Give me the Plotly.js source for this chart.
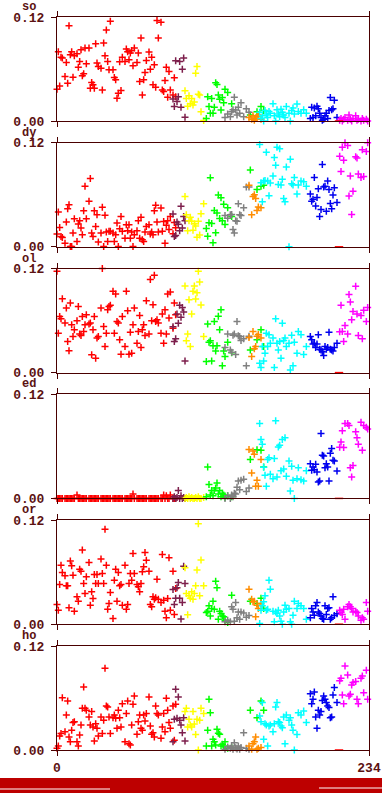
<!DOCTYPE html>
<html>
<head>
<meta charset="utf-8">
<script src="https://cdn.plot.ly/plotly-3.0.1.min.js"></script>
<style>html,body{margin:0;padding:0;background:#fff;}#chart{width:382px;height:793px;}</style>
</head>
<body>
<div id="chart"></div>
<script>
// ---------- shared x positions per colour group ----------
const redX = [0,1,2,3,4,6,7,8,9,10,11,12,13,15,16,17,18,19,20,21,22,24,25,26,27,28,29,30,31,33,34,35,36,37,38,39,40,42,43,44,45,46,47,48,49,51,52,53,54,55,56,57,58,60,61,62,63,64,65,66,67,69,70,71,72,73,74,75,76,78,79,80,81,82,83,84,85,87,88,89];
const darkX = [87,88,89,90,91,92,93,94,95,96];
const yellowX = [96,97,98,99,100,101,102,103,104,105,106,107,108,110];
const greenX = [112,113,114,115,116,117,118,119,120,121,122,123,124,125,126,128,131,145,150,153,155];
const grayX = [126,128,130,131,132,133,134,135,136,137,138,140,142,144];
const orangeX = [144,146,147,148,149,150,151,153];
const cyanX = [152,153,154,155,156,157,158,159,160,162,163,164,165,166,167,168,169,170,171,172,174,175,176,177,178,180,181,183,185,187];
const blueX = [190,191,192,193,194,195,196,197,198,199,200,201,202,203,204,205,206,207,208,210];
const magentaX = [212,213,214,215,216,218,219,220,221,222,224,225,226,228,229,230,232,233];
const markX = [211.5];
const markY = [0];

const panelNames = ['so','dy','ol','ed','or','ho'];
const xTickVals = [0,234];
const xTickText = ['0','234'];
const yTickVals = [0,0.12];
const yTickText = ['0.00','0.12'];

// ---------- so ----------
const so_red = [0.0367,0.080,0.0405,0.0737,0.0726,0.0513,0.0676,0.0436,0.110,0.0764,
0.080,0.0506,0.0753,0.0776,0.0621,0.0687,0.0822,0.0521,0.0544,0.0841,
0.066,0.0841,0.0378,0.0444,0.0417,0.0378,0.0892,0.0668,0.0629,0.061,
0.0359,0.09,0.0753,0.105,0.0687,0.059,0.115,0.059,0.0502,0.0475,
0.0262,0.032,0.0683,0.0351,0.0737,0.0687,0.083,0.080,0.0706,0.0784,
0.0814,0.0637,0.0841,0.0676,0.0784,0.0455,0.0957,0.0301,0.0475,0.056,
0.0699,0.0795,0.0598,0.0737,0.0417,0.0648,0.039,0.116,0.0957,0.114,
0.0359,0.034,0.0467,0.0621,0.0274,0.0571,0.0359,0.030,0.05,0.028];
const so_dark = [0.0255,0.0166,0.0695,0.0224,0.028,0.0687,0.0158,0.0598,0.0726,0.0042];
const so_yellow = [0.035,0.026,0.017,0.029,0.02,0.026,0.0185,0.022,0.055,0.063,0.031,0.03,0.0108,0.0005];
const so_green = [0.003,0.028,0.0166,0.009,0.026,0.009,0.016,0.044,0.042,0.030,0.025,0.0127,0.027,0.021,0.0367,0.033,0.02,0.007,0.0108,0.0166,0.012];
const so_gray = [0.004,0.008,0.005,0.0108,0.013,0.0274,0.0127,0.007,0.016,0.009,0.021,0.005,0.014,0.010];
const so_orange = [0.004,0.002,0.006,0.001,0.003,0.005,0.007,0.002];
const so_cyan = [0.01,0.003,0.006,0.0,0.012,0.007,0.004,0.011,0.009,0.02,0.006,0.0,0.013,0.008,0.005,0.0135,0.01,0.007,0.004,0.0166,0.009,0.0,0.012,0.015,0.008,0.0197,0.011,0.009,0.013,0.009];
const so_blue = [0.003,0.016,0.004,0.015,0.006,0.017,0.014,0.009,0.004,0.001,0.002,0.006,0.009,0.003,0.012,0.027,0.013,0.014,0.024,0.004];
const so_magenta = [0.001,0.003,0.0,0.002,0.004,0.001,0.007,0.002,0.0,0.003,0.006,0.001,0.002,0.0,0.003,0.001,0.002,0.0];

// ---------- dy ----------
const dy_red = [0.0147,0.0401,0.0224,0.012,0.0108,0.0042,0.0286,0.044,0.0486,0.0004,
0.0004,0.0158,0.0324,0.0062,0.0262,0.0301,0.0216,0.0139,0.0417,0.0699,
0.0324,0.0525,0.0787,0.0158,0.012,0.0417,0.0235,0.0371,0.0054,0.0158,
0.0455,0.0004,0.0363,0.017,0.0062,0.0178,0.0178,0.0158,0.0062,0.0139,
0.0274,0.0004,0.0208,0.0351,0.0178,0.01,0.0255,0.0185,0.0255,0.01,
0.017,0.0004,0.0139,0.0185,0.0301,0.01,0.034,0.0081,0.0062,0.017,
0.0235,0.0255,0.0147,0.017,0.0139,0.0417,0.0479,0.0286,0.017,0.0448,
0.0178,0.0293,0.0042,0.025,0.03,0.02,0.035,0.015,0.028,0.022];
const dy_dark = [0.0378,0.012,0.013,0.0286,0.026,0.0185,0.0467,0.0216,0.035,0.03];
const dy_yellow = [0.058,0.037,0.0185,0.03,0.034,0.0296,0.019,0.0265,0.024,0.011,0.0296,0.0135,0.038,0.0497];
const dy_green = [0.021,0.0123,0.0277,0.0797,0.027,0.0046,0.042,0.0162,0.039,0.0597,0.0327,0.0566,0.03,0.049,0.0258,0.045,0.035,0.0886,0.066,0.070,0.071];
const dy_gray = [0.036,0.033,0.037,0.0373,0.02,0.016,0.03,0.0296,0.0497,0.037,0.036,0.045,0.069,0.069];
const dy_orange = [0.071,0.037,0.058,0.060,0.0558,0.042,0.046,0.045];
const dy_cyan = [0.118,0.074,0.052,0.0758,0.0766,0.109,0.0758,0.059,0.0735,0.0816,0.103,0.094,0.115,0.072,0.113,0.0712,0.078,0.0556,0.052,0.092,0.0,0.101,0.0727,0.0712,0.08,0.061,0.0712,0.076,0.075,0.07];
const dy_blue = [0.061,0.0527,0.055,0.080,0.047,0.057,0.067,0.035,0.0431,0.095,0.069,0.070,0.041,0.0758,0.066,0.050,0.044,0.0597,0.068,0.051];
const dy_magenta = [0.1045,0.087,0.115,0.10,0.12,0.117,0.0585,0.0816,0.0373,0.064,0.104,0.1025,0.084,0.080,0.112,0.081,0.110,0.12];

// ---------- ol ----------
const ol_red = [0.117,0.0455,0.0648,0.0621,0.0853,0.0571,0.0745,0.0359,0.0251,0.0803,
0.0552,0.0417,0.0494,0.0598,0.0764,0.0444,0.0428,0.0648,0.0475,0.0552,
0.0668,0.056,0.0571,0.0205,0.0494,0.0648,0.0166,0.0398,0.0417,0.0745,
0.12,0.0533,0.0301,0.0455,0.0726,0.0764,0.0776,0.0938,0.0455,0.0907,
0.0591,0.0571,0.0378,0.0212,0.0648,0.0301,0.0938,0.0714,0.0212,0.0467,
0.0224,0.0552,0.0745,0.034,0.0475,0.066,0.029,0.0494,0.0552,0.0428,
0.083,0.0444,0.1073,0.0598,0.0784,0.1123,0.0591,0.061,0.0571,0.0455,
0.0676,0.034,0.0726,0.0444,0.0907,0.0629,0.093,0.0513,0.0803,0.0668];
const ol_dark = [0.053,0.036,0.039,0.0676,0.057,0.0776,0.064,0.075,0.07,0.0135];
const ol_yellow = [0.1,0.0367,0.0444,0.084,0.030,0.0676,0.094,0.1,0.085,0.092,0.117,0.1046,0.078,0.0417];
const ol_green = [0.0127,0.056,0.035,0.0367,0.0135,0.031,0.059,0.025,0.031,0.065,0.0494,0.0726,0.008,0.025,0.0185,0.035,0.023,0.026,0.038,0.0494,0.030];
const ol_gray = [0.029,0.0444,0.026,0.0235,0.043,0.0444,0.021,0.059,0.0425,0.0417,0.037,0.039,0.008,0.042];
const ol_orange = [0.0405,0.0185,0.0475,0.0274,0.03,0.042,0.044,0.04];
const ol_cyan = [0.0108,0.006,0.030,0.0135,0.0224,0.0455,0.030,0.0436,0.034,0.0398,0.0058,0.062,0.034,0.026,0.036,0.0166,0.057,0.037,0.0398,0.030,0.034,0.003,0.043,0.008,0.035,0.0224,0.0475,0.0436,0.021,0.03];
const ol_blue = [0.0417,0.0378,0.033,0.034,0.029,0.033,0.0436,0.027,0.026,0.024,0.0197,0.030,0.027,0.029,0.0467,0.027,0.026,0.025,0.029,0.034];
const ol_magenta = [0.047,0.0776,0.0475,0.036,0.0544,0.0444,0.09,0.0815,0.061,0.0706,0.0996,0.0676,0.0428,0.066,0.039,0.072,0.059,0.075];

// ---------- ed ----------
const ed_red = [0,0,0,0,0,0,0,0,0,0,
0,0,0,0.004,0,0,0,0,0,0,
0,0,0,0,0,0,0,0,0,0,
0,0,0,0,0,0,0,0,0,0,
0,0,0,0,0,0,0,0,0,0,
0,0.005,0,0,0,0,0,0,0,0,
0,0,0,0,0,0,0,0,0,0,
0,0.004,0,0.003,0,0,0.004,0,0,0];
const ed_dark = [0,0.002,0,0.001,0.009,0,0.003,0,0.001,0];
const ed_yellow = [0,0.001,0,0.002,0,0.001,0,0,0.001,0,0.002,0,0,0.001];
const ed_green = [0.002,0.0363,0.016,0.004,0.009,0.003,0.009,0.012,0.0178,0.005,0.009,0.002,0.006,0.004,0.001,0.003,0.002,0.0448,0.056,0.0556,0.0363];
const ed_gray = [0.0,0.003,0.0,0.004,0.002,0.006,0.005,0.013,0.020,0.010,0.021,0.022,0.008,0.012];
const ed_orange = [0.0563,0.0293,0.0548,0.051,0.0139,0.0208,0.014,0.045];
const ed_cyan = [0.0865,0.068,0.0625,0.036,0.0266,0.0139,0.045,0.047,0.0278,0.0228,0.046,0.0896,0.0247,0.0594,0.0614,0.032,0.068,0.034,0.070,0.0255,0.0432,0.0085,0.037,0.0208,0.0,0.0228,0.0355,0.0216,0.020,0.032];
const ed_blue = [0.040,0.0324,0.0363,0.0332,0.0394,0.0305,0.019,0.020,0.0749,0.0498,0.049,0.0355,0.040,0.0363,0.020,0.052,0.0575,0.044,0.0432,0.0317];
const ed_magenta = [0.059,0.065,0.078,0.0587,0.0865,0.0865,0.084,0.0355,0.0247,0.038,0.077,0.070,0.0625,0.088,0.0556,0.084,0.082,0.08];

// ---------- or ----------
const or_red = [0.0227,0.0162,0.0458,0.0681,0.0597,0.0558,0.0443,0.0443,0.0189,0.0728,
0.0674,0.0566,0.015,0.0316,0.0266,0.0635,0.0612,0.0855,0.047,0.0354,
0.0547,0.0712,0.0219,0.0373,0.0296,0.0574,0.047,0.0574,0.047,0.0751,
0.0585,0.047,0.1097,0.0681,0.0173,0.0239,0.0366,0.0065,0.0508,0.0635,
0.0266,0.0597,0.0443,0.0458,0.0219,0.0681,0.0173,0.0227,0.047,0.0585,
0.0508,0.0816,0.0585,0.0458,0.0431,0.0373,0.047,0.0604,0.0662,0.0828,
0.0739,0.0612,0.0227,0.02,0.0316,0.0289,0.0304,0.052,0.0289,0.025,
0.0805,0.0277,0.015,0.0073,0.0296,0.0766,0.0162,0.0612,0.0112,0.0412];
const or_dark = [0.040,0.0227,0.030,0.042,0.048,0.03,0.006,0.025,0.067,0.047];
const or_yellow = [0.065,0.0354,0.011,0.0327,0.030,0.0373,0.0289,0.0354,0.0443,0.0624,0.116,0.0327,0.074,0.0443];
const or_green = [0.0135,0.015,0.0212,0.0096,0.0181,0.0266,0.0173,0.0497,0.042,0.0058,0.015,0.0123,0.0096,0.0085,0.0046,0.0019,0.0335,0.0266,0.0239,0.030,0.018];
const or_gray = [0.0027,0.0046,0.0027,0.020,0.0173,0.0035,0.025,0.0073,0.0142,0.0058,0.0142,0.013,0.008,0.01];
const or_orange = [0.0404,0.0289,0.026,0.0266,0.0085,0.022,0.018,0.024];
const or_cyan = [0.0008,0.0162,0.0212,0.0258,0.0327,0.0162,0.0173,0.0508,0.0404,0.015,0.0027,0.0142,0.0123,0.0162,0.0096,0.0035,0.0,0.0142,0.0219,0.0173,0.0181,0.0027,0.0,0.0104,0.0266,0.0181,0.0239,0.0212,0.0181,0.0058];
const or_blue = [0.0073,0.018,0.0142,0.0104,0.0212,0.025,0.0142,0.0123,0.0096,0.0065,0.0058,0.0212,0.0112,0.0181,0.0189,0.0058,0.0073,0.0316,0.01,0.012];
const or_magenta = [0.0162,0.0135,0.0112,0.0173,0.0058,0.020,0.0227,0.020,0.0181,0.0142,0.015,0.0135,0.0096,0.0046,0.0073,0.0058,0.025,0.015];

// ---------- ho ----------
const ho_red = [0.0019,0.0046,0.0162,0.0189,0.0604,0.0212,0.0404,0.0566,0.015,0.0096,
0.0227,0.0316,0.0327,0.0096,0.0046,0.0173,0.0289,0.0481,0.0728,0.0481,
0.0458,0.0381,0.0289,0.0443,0.0266,0.0104,0.0304,0.025,0.0162,0.0381,
0.0189,0.0343,0.0943,0.0508,0.0497,0.0381,0.0189,0.0373,0.0404,0.0366,
0.025,0.0458,0.0373,0.0266,0.0535,0.0096,0.042,0.0566,0.0073,0.0058,
0.0289,0.0527,0.0624,0.0181,0.0327,0.0404,0.025,0.0227,0.0404,0.0335,
0.042,0.0612,0.0277,0.0181,0.02,0.015,0.0508,0.042,0.0404,0.0135,
0.0266,0.042,0.0212,0.0597,0.0458,0.0316,0.025,0.0508,0.0112,0.0527];
const ho_dark = [0.0096,0.0354,0.070,0.0366,0.0612,0.0343,0.0289,0.02,0.0373,0.0104];
const ho_yellow = [0.0443,0.0481,0.0266,0.0354,0.0289,0.0266,0.0443,0.030,0.018,0.0354,0.0,0.0343,0.0481,0.042];
const ho_green = [0.0046,0.0227,0.0585,0.0431,0.0046,0.0123,0.0096,0.0058,0.0239,0.0193,0.0181,0.0046,0.0065,0.0046,0.0096,0.0019,0.003,0.0458,0.0373,0.0566,0.0458];
const ho_gray = [0.001,0.0035,0.0019,0.0046,0.0008,0.0085,0.0027,0.0012,0.0046,0.0008,0.003,0.02,0.002,0.001];
const ho_orange = [0.0046,0.0008,0.0073,0.0096,0.015,0.0008,0.002,0.003];
const ho_cyan = [0.0393,0.0327,0.0547,0.0123,0.0304,0.0289,0.0046,0.0277,0.0289,0.0212,0.0304,0.0497,0.0547,0.0327,0.0316,0.0277,0.0258,0.0381,0.0073,0.0404,0.0343,0.0373,0.0289,0.0227,0.0,0.018,0.0431,0.0404,0.045,0.0316];
const ho_blue = [0.065,0.0535,0.0585,0.067,0.0381,0.025,0.0458,0.0404,0.0443,0.057,0.0624,0.0585,0.0547,0.0508,0.0489,0.0373,0.0381,0.0635,0.072,0.0547];
const ho_magenta = [0.080,0.0828,0.0635,0.0535,0.097,0.0866,0.0624,0.0643,0.0751,0.0778,0.079,0.0585,0.0535,0.0828,0.0855,0.066,0.092,0.0585];

// ---------- build ----------
const groups = [
  {x: redX, color: '#ff0000', key: 'red'},
  {x: darkX, color: '#7d1f4c', key: 'dark'},
  {x: yellowX, color: '#ffff00', key: 'yellow'},
  {x: greenX, color: '#00ff00', key: 'green'},
  {x: grayX, color: '#808080', key: 'gray'},
  {x: orangeX, color: '#ff8c00', key: 'orange'},
  {x: cyanX, color: '#00ffff', key: 'cyan'},
  {x: blueX, color: '#0000ee', key: 'blue'},
  {x: magentaX, color: '#ff00ff', key: 'magenta'}
];
const panelData = {
  so: {red: so_red, dark: so_dark, yellow: so_yellow, green: so_green, gray: so_gray, orange: so_orange, cyan: so_cyan, blue: so_blue, magenta: so_magenta},
  dy: {red: dy_red, dark: dy_dark, yellow: dy_yellow, green: dy_green, gray: dy_gray, orange: dy_orange, cyan: dy_cyan, blue: dy_blue, magenta: dy_magenta},
  ol: {red: ol_red, dark: ol_dark, yellow: ol_yellow, green: ol_green, gray: ol_gray, orange: ol_orange, cyan: ol_cyan, blue: ol_blue, magenta: ol_magenta},
  ed: {red: ed_red, dark: ed_dark, yellow: ed_yellow, green: ed_green, gray: ed_gray, orange: ed_orange, cyan: ed_cyan, blue: ed_blue, magenta: ed_magenta},
  or: {red: or_red, dark: or_dark, yellow: or_yellow, green: or_green, gray: or_gray, orange: or_orange, cyan: or_cyan, blue: or_blue, magenta: or_magenta},
  ho: {red: ho_red, dark: ho_dark, yellow: ho_yellow, green: ho_green, gray: ho_gray, orange: ho_orange, cyan: ho_cyan, blue: ho_blue, magenta: ho_magenta}
};

const AXC = '#4a0000';
const TXC = '#5c1212';
const FONT = {family: 'Liberation Mono, DejaVu Sans Mono, monospace', size: 13, color: TXC, weight: 'bold'};
const TFONT = {family: 'Liberation Mono, DejaVu Sans Mono, monospace', size: 12, color: TXC, weight: 'bold'};

const W = 382, H = 793;
const ML = 57, MR = 13, MT = 17, MB = 43;
const plotH = H - MT - MB;
const plotW = W - ML - MR;
const panelStep = 125.8, panelH = 104;

const traces = [];
const layout = {
  width: W, height: H,
  margin: {l: ML, r: MR, t: MT, b: MB, pad: 0},
  paper_bgcolor: '#ffffff', plot_bgcolor: '#ffffff',
  showlegend: false,
  font: FONT,
  annotations: [],
  shapes: []
};

panelNames.forEach((name, i) => {
  const k = i + 1;
  const xa = k === 1 ? 'x' : 'x' + k;
  const ya = k === 1 ? 'y' : 'y' + k;
  const topPx = MT + panelStep * i;
  const botPx = topPx + panelH;
  const d0 = (H - MB - botPx) / plotH;
  const d1 = (H - MB - topPx) / plotH;
  groups.forEach(g => {
    const col = g.color;
    traces.push({
      type: 'scatter', mode: 'markers',
      x: g.x, y: panelData[name][g.key],
      xaxis: xa, yaxis: ya, cliponaxis: false, hoverinfo: 'skip',
      marker: {symbol: 'cross-thin', size: 5, color: col, line: {color: col, width: 1.5}}
    });
  });
  traces.push({
    type: 'scatter', mode: 'markers', x: markX, y: markY,
    xaxis: xa, yaxis: ya, cliponaxis: false, hoverinfo: 'skip',
    marker: {symbol: 'line-ew', size: 6, color: '#ff0000', line: {color: '#ff0000', width: 1.5}}
  });
  layout['xaxis' + (k === 1 ? '' : k)] = {
    domain: [0, 1], anchor: ya, range: [0, 234], fixedrange: true,
    tickmode: 'array', tickvals: xTickVals, ticktext: xTickText,
    showticklabels: k === 6, ticks: 'outside', ticklen: 5, tickwidth: 1, tickcolor: AXC,
    showline: true, linecolor: AXC, linewidth: 1, mirror: 'ticks',
    showgrid: false, zeroline: false, tickfont: FONT
  };
  layout['yaxis' + (k === 1 ? '' : k)] = {
    domain: [d0, d1], anchor: xa, range: [0, 0.12], fixedrange: true,
    tickmode: 'array', tickvals: yTickVals, ticktext: yTickText,
    ticks: 'outside', ticklen: 5, tickwidth: 1, tickcolor: AXC, ticklabelstandoff: 4,
    showline: true, linecolor: AXC, linewidth: 1, mirror: true,
    showgrid: false, zeroline: false, tickfont: FONT
  };
  layout.annotations.push({
    text: name, xref: 'paper', yref: 'paper',
    x: (29 - ML) / plotW, y: (H - MB - (topPx - 10)) / plotH,
    xanchor: 'center', yanchor: 'middle', showarrow: false, font: TFONT
  });
});

// bottom band
const px2x = p => (p - ML) / plotW;
const py2y = p => (H - MB - p) / plotH;
layout.shapes.push({type: 'rect', xref: 'paper', yref: 'paper', x0: px2x(-2), x1: px2x(W + 2), y0: py2y(778), y1: py2y(H + 2), fillcolor: '#bd0000', line: {width: 0}});
layout.shapes.push({type: 'line', xref: 'paper', yref: 'paper', x0: px2x(0), x1: px2x(110), y0: py2y(789), y1: py2y(789), line: {color: '#ffffff', width: 1}});
layout.shapes.push({type: 'line', xref: 'paper', yref: 'paper', x0: px2x(319), x1: px2x(W + 2), y0: py2y(788), y1: py2y(788), line: {color: '#ffffff', width: 1}});

Plotly.newPlot('chart', traces, layout, {displayModeBar: false, staticPlot: true});
</script>
</body>
</html>
